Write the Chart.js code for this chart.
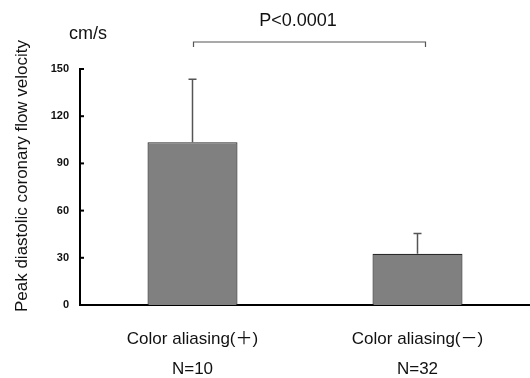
<!DOCTYPE html>
<html>
<head>
<meta charset="utf-8">
<script src="https://cdn.jsdelivr.net/npm/chart.js@4/dist/chart.umd.min.js"></script>
<style>
  html, body { margin: 0; padding: 0; background: #fff; }
  #wrap { width: 530px; height: 378px; }
</style>
</head>
<body>
<div id="wrap"><canvas id="chart"></canvas></div>
<script>
// values
const groups = ['Color aliasing(\uFF0B)', 'Color aliasing(\uFF0D)'];
const counts = ['N=10', 'N=32'];
const means = [103.5, 32.5];
const errUp = [40, 13];
const yTicks = [0, 30, 60, 90, 120, 150];
const yTitle = 'Peak diastolic coronary flow velocity';
const unit = 'cm/s';
const pText = 'P<0.0001';

const FONT = '"Liberation Sans", Arial, "Noto Sans CJK JP", sans-serif';

// error bars, inward y ticks, bracket and titles
const extras = {
    id: 'extras',
    afterDatasetsDraw(chart) {
        const ctx = chart.ctx;
        const x = chart.scales.x, y = chart.scales.y;
        const area = chart.chartArea;
        ctx.save();

        // error bars (upper only)
        ctx.strokeStyle = '#555';
        ctx.lineWidth = 1.5;
        means.forEach((m, i) => {
            const cx = x.getPixelForValue(i);
            const y0 = y.getPixelForValue(m);
            const y1 = y.getPixelForValue(m + errUp[i]);
            ctx.beginPath();
            ctx.moveTo(cx, y0);
            ctx.lineTo(cx, y1);
            ctx.moveTo(cx - 4, y1);
            ctx.lineTo(cx + 4, y1);
            ctx.stroke();
        });

        // y ticks pointing into the plot
        ctx.strokeStyle = '#000';
        ctx.lineWidth = 2;
        yTicks.forEach(t => {
            const py = y.getPixelForValue(t);
            ctx.beginPath();
            ctx.moveTo(area.left, py);
            ctx.lineTo(area.left + 4, py);
            ctx.stroke();
        });

        // significance bracket
        const bx0 = x.getPixelForValue(0) + 1, bx1 = x.getPixelForValue(1) + 8;
        const by = 42;
        ctx.strokeStyle = '#555';
        ctx.lineWidth = 1.2;
        ctx.beginPath();
        ctx.moveTo(bx0, by + 5);
        ctx.lineTo(bx0, by);
        ctx.lineTo(bx1, by);
        ctx.lineTo(bx1, by + 5);
        ctx.stroke();

        ctx.fillStyle = '#111';
        ctx.font = '18px ' + FONT;
        ctx.textAlign = 'center';
        ctx.textBaseline = 'middle';
        ctx.fillText(pText, 298, 21);
        ctx.fillText(unit, 88, 34);

        // y title
        ctx.font = '17px ' + FONT;
        ctx.translate(22, 176);
        ctx.rotate(-Math.PI / 2);
        ctx.fillText(yTitle, 0, 0);
        ctx.restore();
    }
};

new Chart(document.getElementById('chart'), {
    type: 'bar',
    data: {
        labels: groups.map((g, i) => [g, counts[i]]),
        datasets: [{
            data: means,
            backgroundColor: '#808080',
            borderColor: '#2a2a2a',
            borderWidth: 1.2,
            barPercentage: 0.4,
            categoryPercentage: 1
        }]
    },
    options: {
        responsive: true,
        maintainAspectRatio: false,
        animation: false,
        layout: { padding: { top: 69, right: 0, left: 0, bottom: 0 } },
        plugins: { legend: { display: false }, tooltip: { enabled: false } },
        scales: {
            x: {
                grid: { display: false, drawTicks: false },
                border: { color: '#000', width: 2 },
                ticks: {
                    color: '#111',
                    padding: 19,
                    maxRotation: 0,
                    font: { family: FONT, size: 17, lineHeight: 1.76 }
                },
                afterFit(s) { s.height = 73; }
            },
            y: {
                min: 0,
                max: 150,
                afterBuildTicks(s) { s.ticks = yTicks.map(v => ({ value: v })); },
                grid: { display: false, drawTicks: false },
                border: { color: '#000', width: 2 },
                ticks: {
                    color: '#111',
                    padding: 11,
                    font: { family: '"Liberation Sans Narrow", "Liberation Sans", Arial, sans-serif', size: 11, weight: 'bold' }
                },
                afterFit(s) { s.width = 80; }
            }
        }
    },
    plugins: [extras]
});
</script>
</body>
</html>
